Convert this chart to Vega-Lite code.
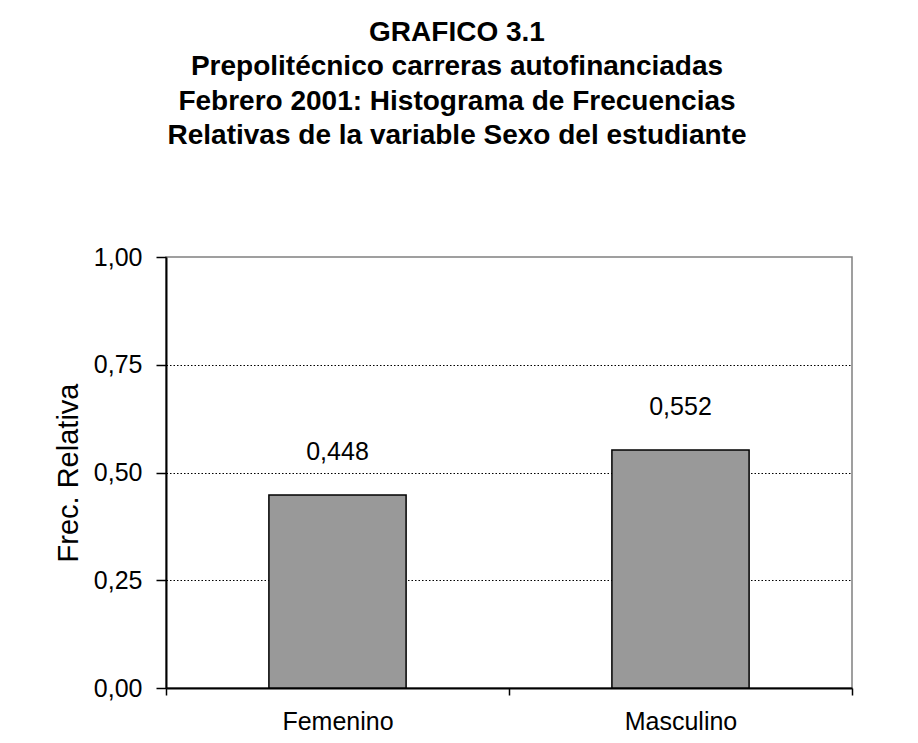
{
  "$schema": "https://vega.github.io/schema/vega-lite/v6.json",
  "autosize": {"type": "none"},
  "width": 686,
  "height": 431,
  "padding": {"left": 166, "top": 257, "right": 66, "bottom": 55},
  "background": "white",
  "title": {
    "text": ["GRAFICO 3.1", "Prepolitécnico carreras autofinanciadas", "Febrero 2001: Histograma de Frecuencias", "Relativas de la variable Sexo del estudiante"],
    "font": "Liberation Sans",
    "fontSize": 28,
    "fontWeight": "bold",
    "lineHeight": 34.5,
    "color": "black",
    "anchor": "middle",
    "dx": -52,
    "offset": 95
  },
  "config": {
    "locale": {"number": {"decimal": ",", "thousands": ".", "grouping": [3], "currency": ["", " €"]}},
    "view": {"stroke": "#808080", "strokeWidth": 1.5},
    "font": "Liberation Sans"
  },
  "data": {
    "values": [
      {"sexo": "Femenino", "frec": 0.448},
      {"sexo": "Masculino", "frec": 0.552}
    ]
  },
  "encoding": {
    "x": {
      "field": "sexo",
      "type": "nominal",
      "sort": null,
      "scale": {"paddingInner": 0, "paddingOuter": 0},
      "axis": {
        "title": null,
        "tickBand": "extent",
        "labelAngle": 0,
        "labelFont": "Liberation Sans",
        "labelFontSize": 25,
        "labelColor": "black",
        "labelPadding": 14,
        "domainColor": "black",
        "domainWidth": 2,
        "tickColor": "black",
        "tickWidth": 1.5,
        "tickSize": 7,
        "grid": false
      }
    },
    "y": {
      "field": "frec",
      "type": "quantitative",
      "scale": {"domain": [0, 1], "nice": false},
      "axis": {
        "title": "Frec. Relativa",
        "titleFont": "Liberation Sans",
        "titleFontSize": 29,
        "titleFontWeight": "normal",
        "titleColor": "black",
        "titlePadding": 10,
        "values": [0, 0.25, 0.5, 0.75, 1],
        "format": ".2f",
        "labelFont": "Liberation Sans",
        "labelFontSize": 25,
        "labelColor": "black",
        "labelPadding": 14,
        "domainColor": "black",
        "domainWidth": 2,
        "tickColor": "black",
        "tickWidth": 1.5,
        "tickSize": 10,
        "grid": true,
        "gridColor": "black",
        "gridWidth": 1.2,
        "gridDash": [1.5, 2],
        "gridOpacity": {"condition": {"test": "datum.value == 0 || datum.value == 1", "value": 0}, "value": 1}
      }
    }
  },
  "layer": [
    {
      "mark": {"type": "bar", "fill": "#999999", "stroke": "black", "strokeWidth": 1.5, "width": {"band": 0.4}}
    },
    {
      "mark": {"type": "text", "font": "Liberation Sans", "fontSize": 25, "color": "black", "baseline": "alphabetic", "dy": -35},
      "encoding": {
        "text": {"field": "frec", "type": "quantitative", "format": ".3f"}
      }
    }
  ]
}
